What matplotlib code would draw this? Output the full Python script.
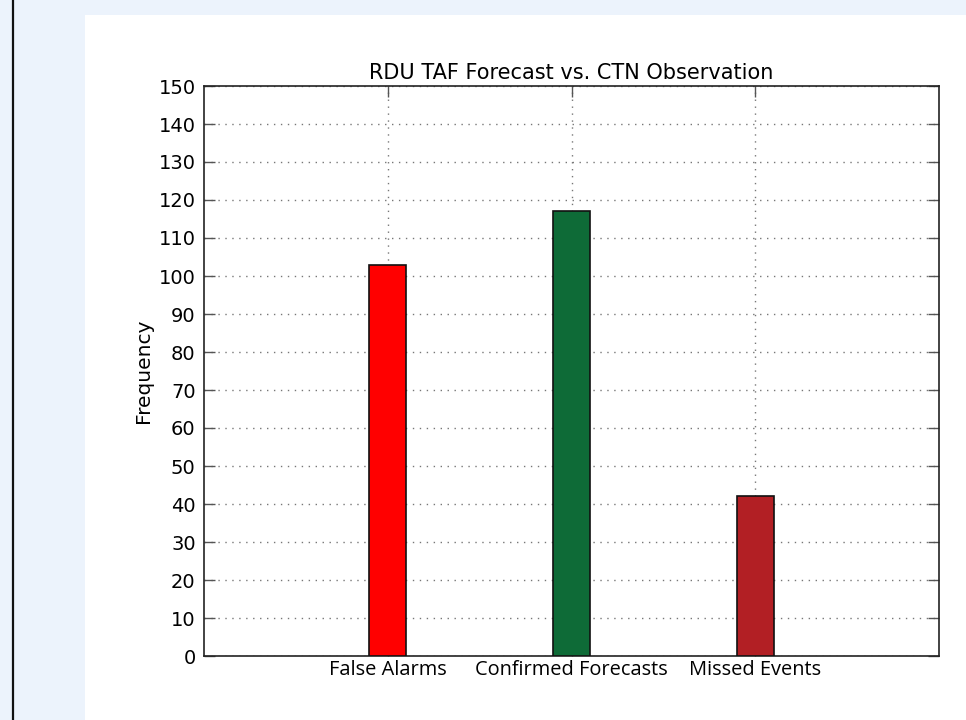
import matplotlib
matplotlib.use("Agg")
import matplotlib.pyplot as plt
from matplotlib.patches import Rectangle
from matplotlib.lines import Line2D

categories = ["False Alarms", "Confirmed Forecasts", "Missed Events"]
values = [103, 117, 42]
colors = ["#ff0000", "#0e6b37", "#b21f24"]
yticks = list(range(0, 151, 10))

fig = plt.figure(figsize=(9.66, 7.2), dpi=100)
fig.patch.set_facecolor("#ecf3fc")
bg = Rectangle((85/966, 0), 1 - 85/966, 1 - 15/720,
               transform=fig.transFigure, facecolor="white",
               edgecolor="none", zorder=-10)
fig.add_artist(bg)
fig.add_artist(Line2D([12.5/966, 12.5/966], [0, 1], transform=fig.transFigure,
                      color="#111111", linewidth=1.6, zorder=-5))

ax = fig.add_axes([204/966, 1 - 656/720, (939 - 204)/966, (656 - 86)/720])
ax.set_zorder(5)
pos = [1, 2, 3]
ax.bar(pos, values, width=0.2, color=colors, edgecolor="#111111", linewidth=1.2, zorder=3)
ax.set_xlim(0, 4)
ax.set_ylim(0, 150)
ax.set_yticks(yticks)
ax.set_xticks(pos)
ax.set_xticklabels(categories, fontsize=14.4, family=["Open Sans", "DejaVu Sans"])
ax.tick_params(axis="y", labelsize=14, pad=6)
ax.tick_params(direction="in", length=8, width=1, top=True, right=True, color="#555555")
ax.tick_params(axis="x", pad=3)
ax.grid(True, linestyle=(0, (1, 4)), color="#777777", linewidth=1, zorder=0)
ax.set_axisbelow(True)
for s in ax.spines.values():
    s.set_linewidth(1.2)
    s.set_color("#222222")
ax.set_title("RDU TAF Forecast vs. CTN Observation", fontsize=15, pad=5)
ax.set_ylabel("Frequency", fontsize=14.5, labelpad=4)

fig.savefig("out.png", dpi=100, facecolor=fig.get_facecolor())
